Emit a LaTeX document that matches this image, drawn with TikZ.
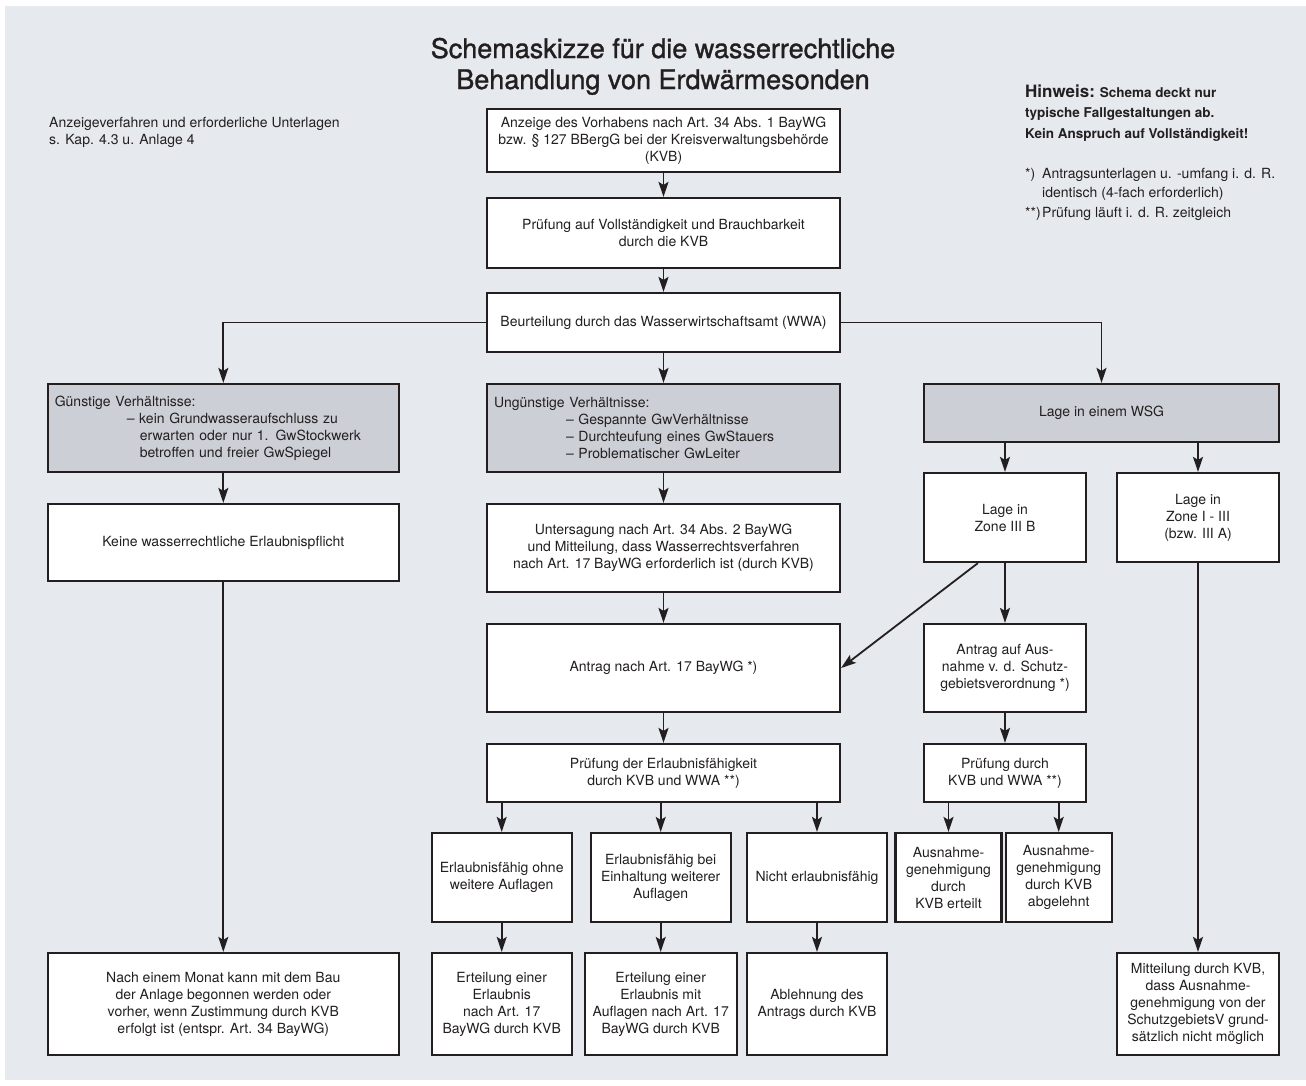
\documentclass[tikz,border=0pt]{standalone}
\usepackage{fontspec}
\setmainfont{TeX Gyre Heros}
\newfontfamily\titlefont{TeX Gyre Heros}[FakeBold=1.2]
\usetikzlibrary{arrows.meta}
\definecolor{ink}{RGB}{35,31,32}
\definecolor{panel}{RGB}{230,233,238}
\definecolor{boxgray}{RGB}{204,207,214}
\newcommand{\boxfont}{\fontsize{14}{17}\selectfont}
\newcommand{\widthmain}{353pt}
\newcommand{\widthleft}{351pt}
\newcommand{\widthside}{162pt}
\newcommand{\widthsmall}{140pt}
\newcommand{\widthtiny}{106pt}
\tikzset{
    common/.style={draw=ink, line width=2.2pt, rectangle, inner sep=0pt, text=ink, font=\boxfont, align=center},
    box/.style={common, fill=white},
    graybox/.style={common, fill=boxgray},
    listbox/.style={graybox, align=left, inner xsep=7pt, text width=#1},
    note/.style={inner sep=0pt, text=ink, font=\boxfont, align=left},
    title/.style={inner sep=0pt, text=ink, font=\titlefont\fontsize{27}{31}\selectfont, anchor=base},
    flow/.style={->, draw=ink, line width=1.8pt}
}

\begin{document}
\begin{tikzpicture}[x=1pt, y=-1pt, >={Stealth[length=15pt, width=10pt, inset=3pt]}]
    \fill[white] (0,0) rectangle (1306,1085);
    \fill[panel] (5,6) rectangle (1306,1080);
    \useasboundingbox (0,0) rectangle (1306,1085);

    \node[title] (titletop) at (663,58) {Schemaskizze für die wasserrechtliche};
    \node[title] (titlebottom) at (663,89) {Behandlung von Erdwärmesonden};
    \node[note, anchor=base west] (verfahren) at (49,144) {Anzeigeverfahren und erforderliche Unterlagen\\s. Kap. 4.3 u. Anlage 4};
    \node[note, anchor=base west, font=\bfseries\fontsize{13.5}{20.5}\selectfont] (hinweis) at (1025,138)
        {{\fontsize{17}{20}\selectfont Hinweis:} Schema deckt nur\\typische Fallgestaltungen ab.\\Kein Anspruch auf Vollständigkeit!};
    \node[note, anchor=base west, font=\fontsize{14}{19.5}\selectfont] (fussnoten) at (1025,217)
        {\makebox[17pt][l]{*)}Antragsunterlagen u. -umfang i. d. R.\\\hspace*{17pt}identisch (4-fach erforderlich)\\\makebox[17pt][l]{**)}Prüfung läuft i. d. R. zeitgleich};

    \node[box, minimum width=\widthmain, minimum height=63pt] (anzeige) at (663.5,140.5)
        {Anzeige des Vorhabens nach Art. 34 Abs. 1 BayWG\\bzw. § 127 BBergG bei der Kreisverwaltungsbehörde\\(KVB)};
    \node[box, minimum width=\widthmain, minimum height=70pt] (pruefvoll) at (663.5,233)
        {Prüfung auf Vollständigkeit und Brauchbarkeit\\durch die KVB};
    \node[box, minimum width=\widthmain, minimum height=59pt] (beurteil) at (663.5,322.5)
        {Beurteilung durch das Wasserwirtschaftsamt (WWA)};

    \node[listbox=337pt, minimum height=88pt] (guenstig) at (223.3,428)
        {Günstige Verhältnisse:\\\hspace*{72pt}– kein Grundwasseraufschluss zu\\\hspace*{85pt}erwarten oder nur 1. GwStockwerk\\\hspace*{85pt}betroffen und freier GwSpiegel};
    \node[listbox=339pt, minimum height=88pt] (unguenstig) at (663.5,428)
        {Ungünstige Verhältnisse:\\\hspace*{72pt}– Gespannte GwVerhältnisse\\\hspace*{72pt}– Durchteufung eines GwStauers\\\hspace*{72pt}– Problematischer GwLeiter};
    \node[graybox, minimum width=355.5pt, minimum height=58pt] (wsg) at (1101.5,413) {Lage in einem WSG};

    \node[box, minimum width=\widthside, minimum height=89pt] (zone3b) at (1005,517.5) {Lage in\\Zone III B};
    \node[box, minimum width=\widthside, minimum height=89pt] (zone13) at (1198,517.5) {Lage in\\Zone I - III\\(bzw. III A)};

    \node[box, minimum width=\widthleft, minimum height=77pt] (keine) at (223.3,542.5) {Keine wasserrechtliche Erlaubnispflicht};
    \node[box, minimum width=\widthmain, minimum height=88pt] (untersag) at (663.5,548)
        {Untersagung nach Art. 34 Abs. 2 BayWG\\und Mitteilung, dass Wasserrechtsverfahren\\nach Art. 17 BayWG erforderlich ist (durch KVB)};

    \node[box, minimum width=\widthmain, minimum height=88pt] (antrag17) at (663.5,668) {Antrag nach Art. 17 BayWG *)};
    \node[box, minimum width=\widthside, minimum height=88pt] (antragaus) at (1005,668)
        {Antrag auf Aus-\\nahme v. d. Schutz-\\gebietsverordnung *)};

    \node[box, minimum width=\widthmain, minimum height=58pt] (pruef17) at (663.5,773)
        {Prüfung der Erlaubnisfähigkeit\\durch KVB und WWA **)};
    \node[box, minimum width=\widthside, minimum height=58pt] (pruefaus) at (1005,773)
        {Prüfung durch\\KVB und WWA **)};

    \node[box, minimum width=\widthsmall, minimum height=89pt] (ohne) at (501.7,877.5) {Erlaubnisfähig ohne\\weitere Auflagen};
    \node[box, minimum width=\widthsmall, minimum height=89pt] (bei) at (660.7,877.5) {Erlaubnisfähig bei\\Einhaltung weiterer\\Auflagen};
    \node[box, minimum width=\widthsmall, minimum height=89pt] (nicht) at (817,877.5) {Nicht erlaubnisfähig};
    \node[box, minimum width=\widthtiny, minimum height=89pt] (erteilt) at (948.5,877.5) {Ausnahme-\\genehmigung\\durch\\KVB erteilt};
    \node[box, minimum width=\widthtiny, minimum height=89pt] (abgelehnt) at (1058.7,877.5) {Ausnahme-\\genehmigung\\durch KVB\\abgelehnt};

    \node[box, minimum width=\widthleft, minimum height=102pt] (nach) at (223.3,1004)
        {Nach einem Monat kann mit dem Bau\\der Anlage begonnen werden oder\\vorher, wenn Zustimmung durch KVB\\erfolgt ist (entspr. Art. 34 BayWG)};
    \node[box, minimum width=\widthsmall, minimum height=102pt] (erteilung) at (501.7,1004) {Erteilung einer\\Erlaubnis\\nach Art. 17\\BayWG durch KVB};
    \node[box, minimum width=152pt, minimum height=102pt] (auflagen) at (660.7,1004) {Erteilung einer\\Erlaubnis mit\\Auflagen nach Art. 17\\BayWG durch KVB};
    \node[box, minimum width=\widthsmall, minimum height=102pt] (ablehnung) at (817,1004) {Ablehnung des\\Antrags durch KVB};
    \node[box, minimum width=162.6pt, minimum height=102pt] (mitteilung) at (1198,1004)
        {Mitteilung durch KVB,\\dass Ausnahme-\\genehmigung von der\\SchutzgebietsV grund-\\sätzlich nicht möglich};

    \draw[flow] (anzeige) -- (pruefvoll);
    \draw[flow] (pruefvoll) -- (beurteil);
    \draw[flow] (beurteil.west) -| (guenstig.north);
    \draw[flow] (beurteil) -- (unguenstig);
    \draw[flow] (beurteil.east) -| (wsg.north);
    \draw[flow] (zone3b |- wsg.south) -- (zone3b.north);
    \draw[flow] (zone13 |- wsg.south) -- (zone13.north);
    \draw[flow] (guenstig) -- (keine);
    \draw[flow] (keine) -- (nach);
    \draw[flow] (unguenstig) -- (untersag);
    \draw[flow] (untersag) -- (antrag17);
    \draw[flow] (zone3b) -- (antragaus);
    \draw[flow] ([xshift=55pt]zone3b.south west) -- (antrag17.east);
    \draw[flow] (zone13) -- (mitteilung);
    \draw[flow] (antrag17) -- (pruef17);
    \draw[flow] (antragaus) -- (pruefaus);
    \draw[flow] (ohne |- pruef17.south) -- (ohne.north);
    \draw[flow] (bei |- pruef17.south) -- (bei.north);
    \draw[flow] (nicht |- pruef17.south) -- (nicht.north);
    \draw[flow] (erteilt |- pruefaus.south) -- (erteilt.north);
    \draw[flow] (abgelehnt |- pruefaus.south) -- (abgelehnt.north);
    \draw[flow] (ohne) -- (erteilung);
    \draw[flow] (bei) -- (auflagen);
    \draw[flow] (nicht) -- (ablehnung);
\end{tikzpicture}
\end{document}
